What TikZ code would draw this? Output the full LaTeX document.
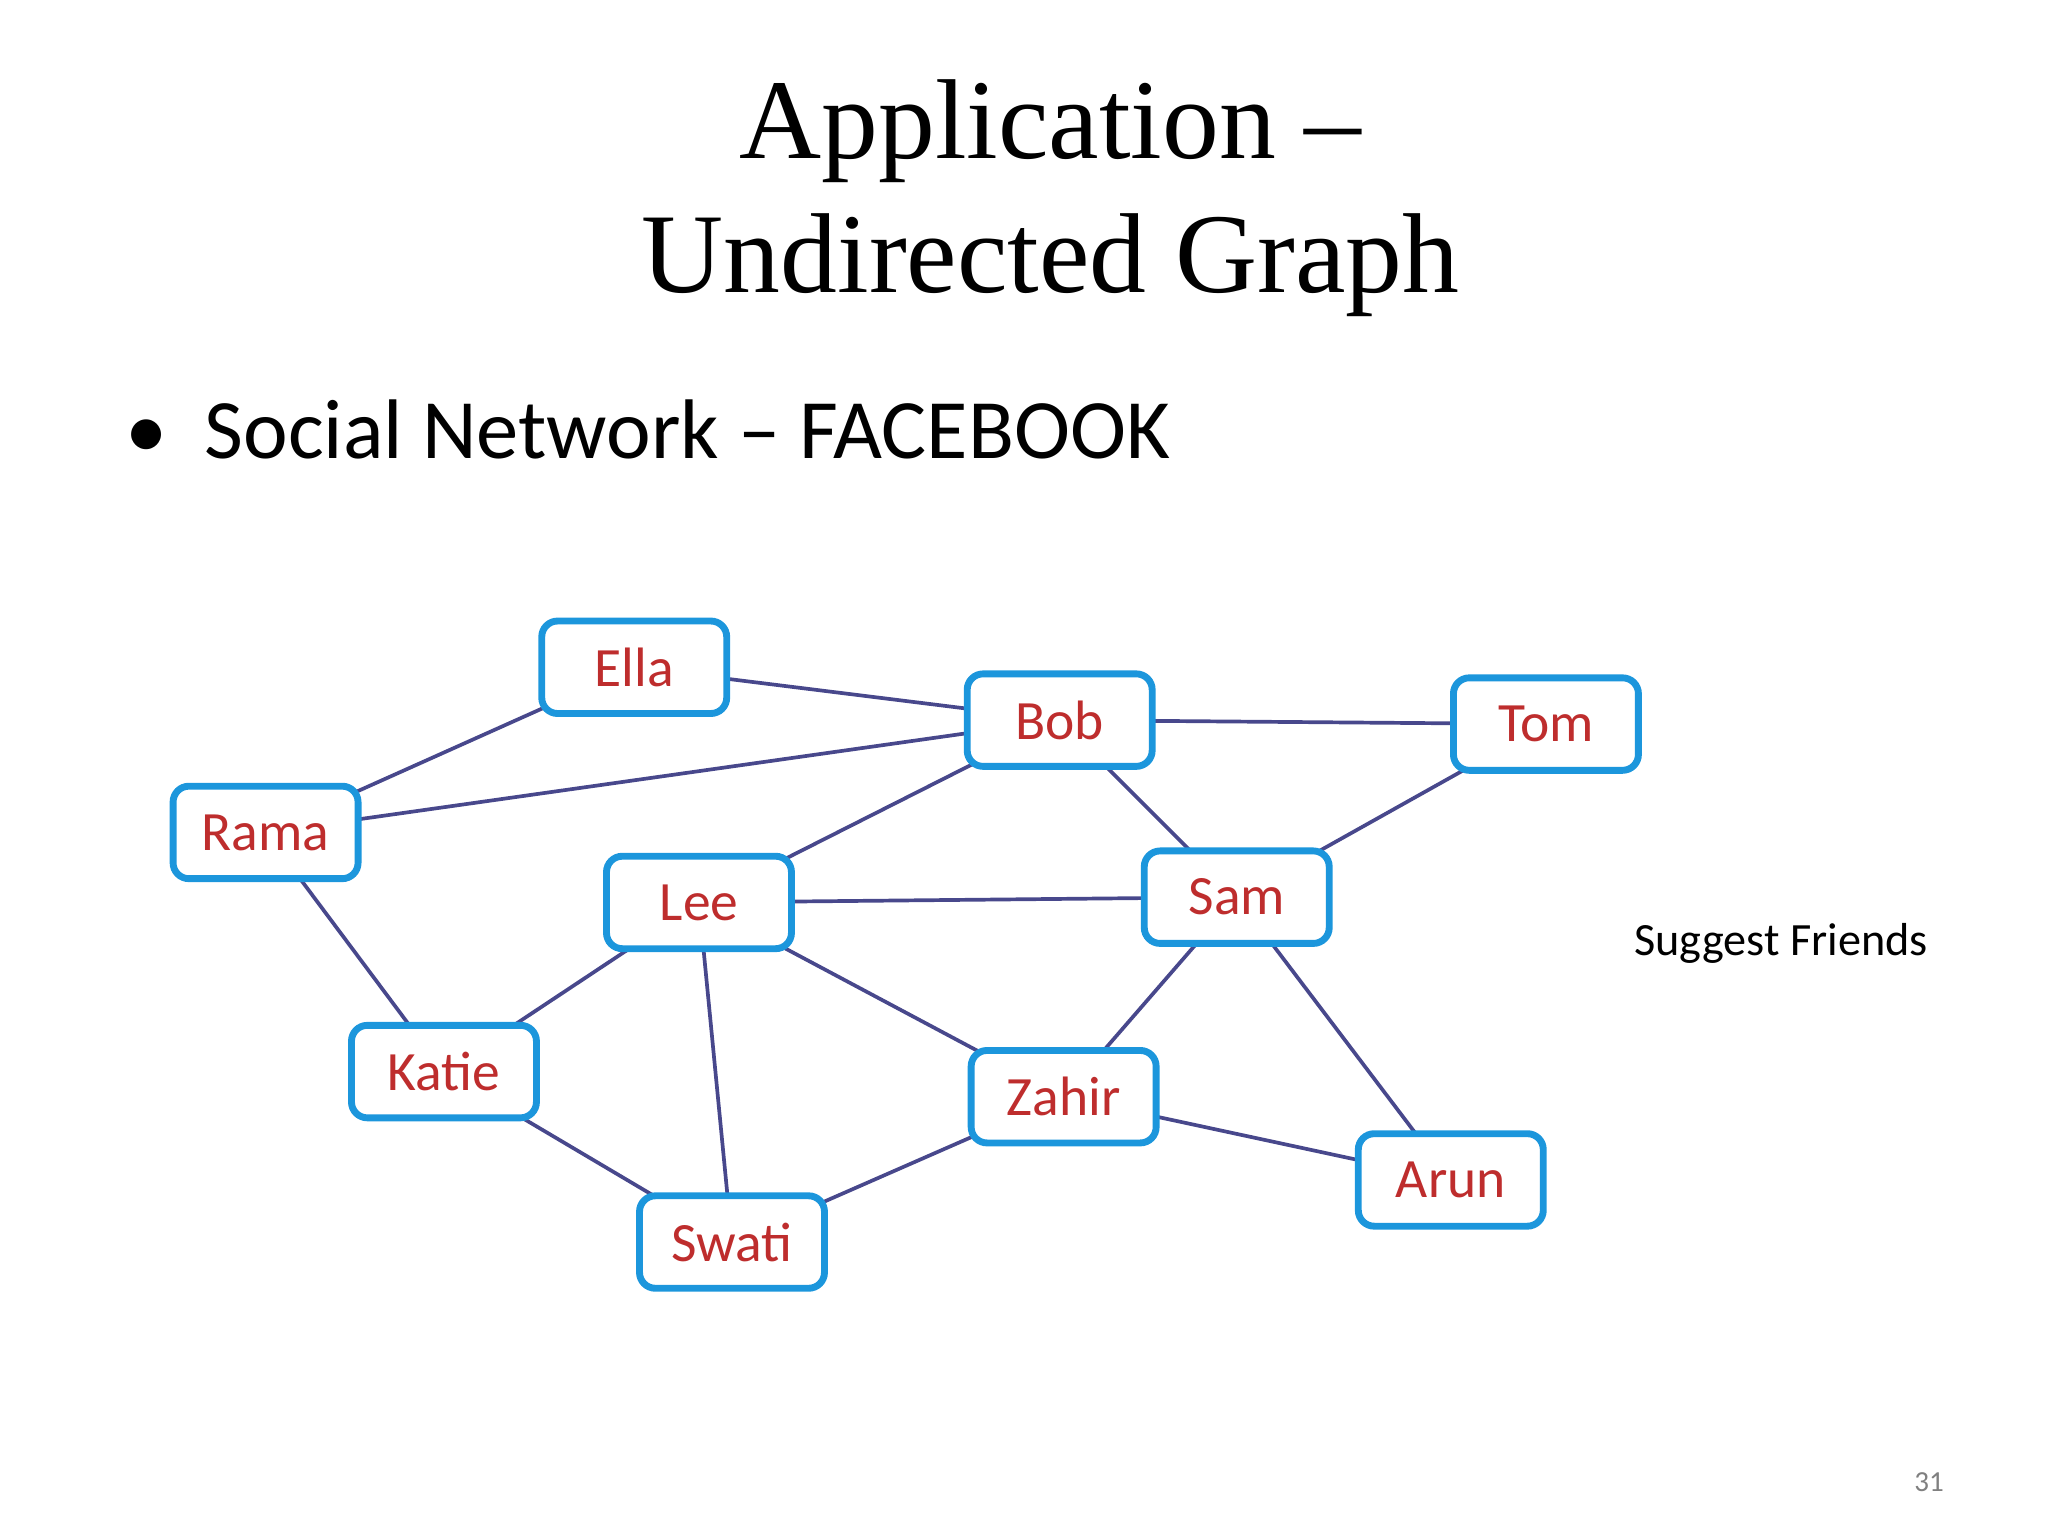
\documentclass[tikz,border=0pt]{standalone}
\usepackage{fontspec}
\setmainfont{Liberation Serif}
\newfontfamily\calfont{Carlito}
\usetikzlibrary{backgrounds}
\definecolor{boxc}{RGB}{28,150,220}
\definecolor{edgec}{RGB}{72,72,140}
\definecolor{namec}{RGB}{190,45,45}
\begin{document}
\begin{tikzpicture}[x=0.5pt,y=-0.5pt,
  person/.style={draw=boxc,line width=2.6pt,rounded corners=6pt,fill=white,minimum width=70pt,minimum height=35pt,font=\calfont\fontsize{21}{21}\selectfont,text=namec},
  link/.style={draw=edgec,line width=1.4pt}]
\useasboundingbox (0,0) rectangle (1550,1163);
\node[font=\fontsize{43}{51}\selectfont,align=center] (title) at (795,150) {Application \textendash\\Undirected Graph};
\node[font=\calfont\fontsize{32}{38}\selectfont,anchor=west] (bul) at (88,325) {\textbullet\hspace{14pt}Social Network \textendash\ FACEBOOK};
\node[font=\calfont\fontsize{17.5}{20}\selectfont] (sf) at (1348,714) {Suggest Friends};
\node[font=\calfont\fontsize{11}{13}\selectfont,text=gray] (pg) at (1460,1122) {31};
\node[person] (Ella) at (480,505) {Ella};
\node[person] (Bob) at (802,545) {Bob};
\node[person] (Tom) at (1170,548) {Tom};
\node[person] (Rama) at (201,630) {Rama};
\node[person] (Lee) at (529,683) {Lee};
\node[person] (Sam) at (936,679) {Sam};
\node[person] (Katie) at (336,811) {Katie};
\node[person] (Zahir) at (805,830) {Zahir};
\node[person] (Arun) at (1098,893) {Arun};
\node[person] (Swati) at (554,940) {Swati};
\begin{scope}[on background layer]
\foreach \a/\b in {Ella/Rama,Ella/Bob,Rama/Bob,Bob/Tom,Bob/Lee,Bob/Sam,Tom/Sam,Rama/Katie,Lee/Sam,Lee/Katie,Lee/Swati,Lee/Zahir,Sam/Zahir,Sam/Arun,Zahir/Arun,Zahir/Swati,Katie/Swati}
  \draw[link] (\a.center) -- (\b.center);
\end{scope}
\end{tikzpicture}
\end{document}
